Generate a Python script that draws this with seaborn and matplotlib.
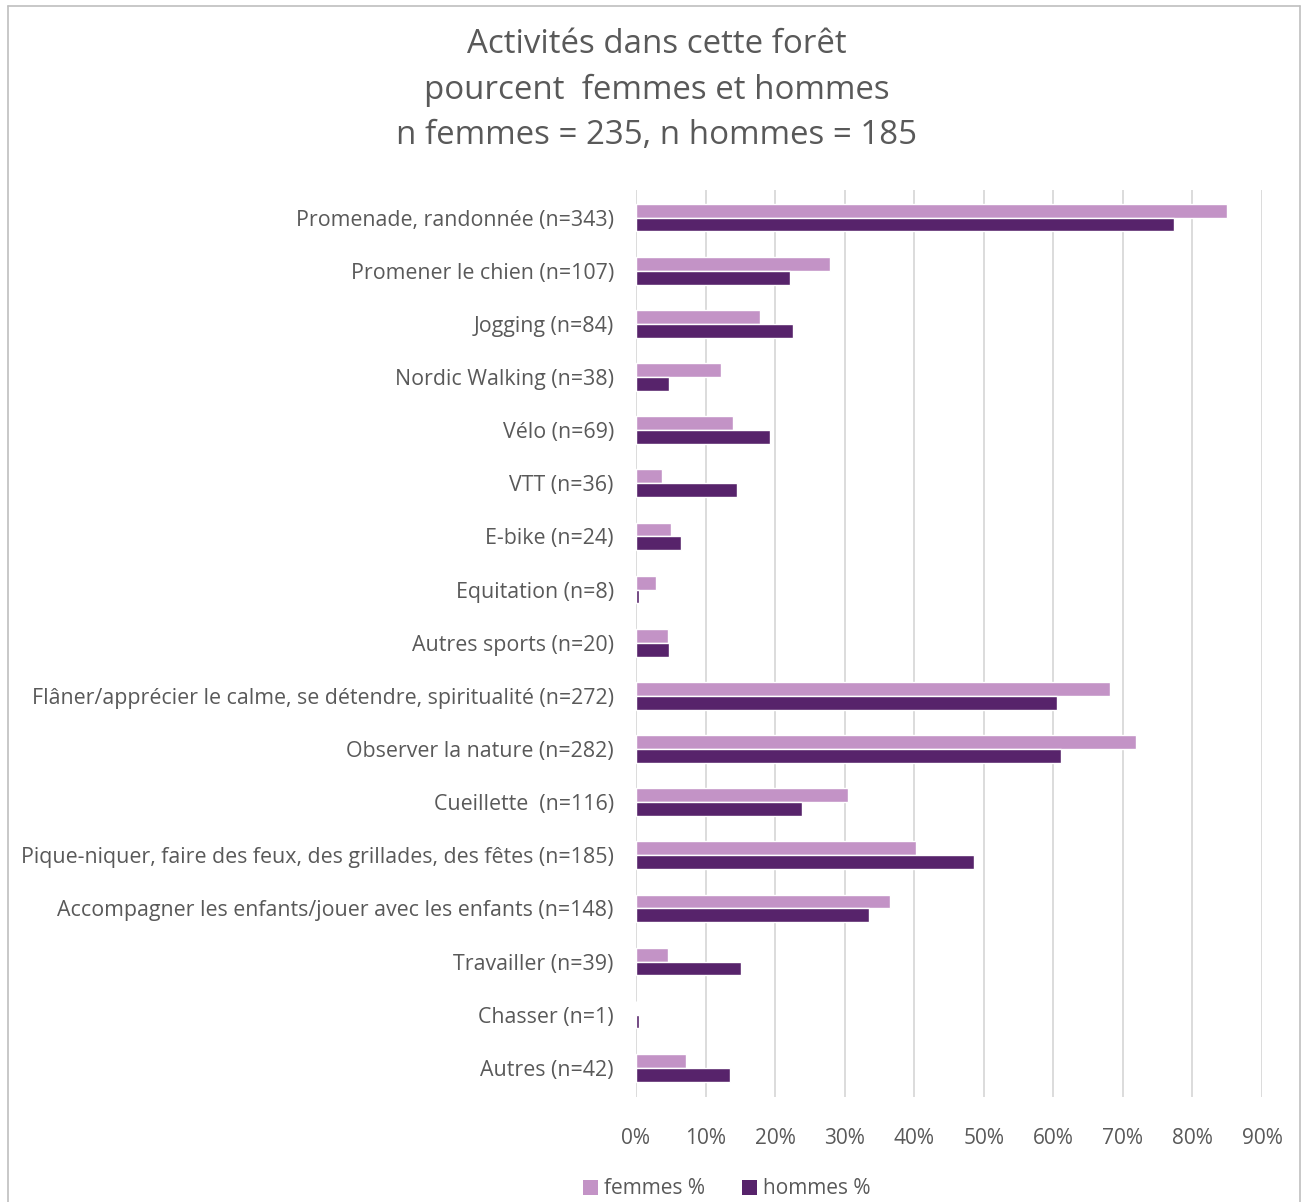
import matplotlib
matplotlib.use("Agg")
import matplotlib.pyplot as plt
import seaborn as sns
import pandas as pd
from matplotlib.patches import Patch
from matplotlib.lines import Line2D
from matplotlib.ticker import FuncFormatter

categories = [
    "Promenade, randonnée (n=343)",
    "Promener le chien (n=107)",
    "Jogging (n=84)",
    "Nordic Walking (n=38)",
    "Vélo (n=69)",
    "VTT (n=36)",
    "E-bike (n=24)",
    "Equitation (n=8)",
    "Autres sports (n=20)",
    "Flâner/apprécier le calme, se détendre, spiritualité (n=272)",
    "Observer la nature (n=282)",
    "Cueillette  (n=116)",
    "Pique-niquer, faire des feux, des grillades, des fêtes (n=185)",
    "Accompagner les enfants/jouer avec les enfants (n=148)",
    "Travailler (n=39)",
    "Chasser (n=1)",
    "Autres (n=42)",
]
femmes = [85.0, 27.9, 17.8, 12.2, 14.0, 3.7, 5.1, 2.9, 4.6, 68.1, 71.9, 30.5, 40.3, 36.5, 4.6, 0.0, 7.2]
hommes = [77.3, 22.2, 22.6, 4.8, 19.3, 14.5, 6.5, 0.5, 4.8, 60.5, 61.1, 23.8, 48.6, 33.5, 15.1, 0.5, 13.5]
series = ["femmes %", "hommes %"]
xticks = [0, 10, 20, 30, 40, 50, 60, 70, 80, 90]
title = "Activités dans cette forêt\npourcent  femmes et hommes\nn femmes = 235, n hommes = 185"

col_f = "#C393C6"
col_h = "#57236B"
grey_txt = "#595959"

df = pd.DataFrame({
    "cat": categories * 2,
    "val": femmes + hommes,
    "serie": [series[0]] * len(categories) + [series[1]] * len(categories),
})

sns.set_theme(style="white")
plt.rcParams["font.family"] = ["Open Sans", "DejaVu Sans"]

fig = plt.figure(figsize=(13.05, 12.02), dpi=100)
ax = fig.add_axes([636 / 1305, 1 - 1097 / 1202, (1262 - 636) / 1305, (1097 - 190) / 1202])

sns.barplot(data=df, y="cat", x="val", hue="serie", order=categories,
            hue_order=series, palette=[col_f, col_h], orient="h",
            width=0.52, ax=ax, legend=False, saturation=1)

ax.set_xlim(0, 90)
ax.set_ylim(len(categories) - 0.45, -0.52)
ax.set_xticks(xticks)
ax.xaxis.set_major_formatter(FuncFormatter(lambda v, p: f"{v:.0f}%"))
ax.grid(axis="x", color="#D9D9D9", linewidth=1.3)
ax.set_axisbelow(True)
for s in ax.spines.values():
    s.set_visible(False)
ax.set_xlabel("")
ax.set_ylabel("")
ax.tick_params(axis="both", length=0, colors=grey_txt)
ax.tick_params(axis="x", pad=22, labelsize=15)
ax.tick_params(axis="y", pad=16, labelsize=15.4)

fig.text(0.503, 1 - 90 / 1202, title, ha="center", va="center", fontsize=23.8,
         color=grey_txt, linespacing=1.5)

handles = [Patch(facecolor=col_f, edgecolor="none"), Patch(facecolor=col_h, edgecolor="none")]
fig.legend(handles, series, loc="center", bbox_to_anchor=(0.557, 1 - 1189 / 1202), ncol=2,
           frameon=False, fontsize=15, labelcolor=grey_txt, handlelength=0.7,
           handleheight=0.7, handletextpad=0.3, columnspacing=1.8)

# outer frame
fig.add_artist(Line2D([8 / 1305, 8 / 1305], [0, 1 - 6 / 1202], color="#BFBFBF", lw=1.2, transform=fig.transFigure))
fig.add_artist(Line2D([8 / 1305, 1300 / 1305], [1 - 6 / 1202, 1 - 6 / 1202], color="#BFBFBF", lw=1.2, transform=fig.transFigure))
fig.add_artist(Line2D([1300 / 1305, 1300 / 1305], [0, 1 - 6 / 1202], color="#BFBFBF", lw=1.2, transform=fig.transFigure))

fig.savefig("out.png", dpi=100, facecolor="white")
